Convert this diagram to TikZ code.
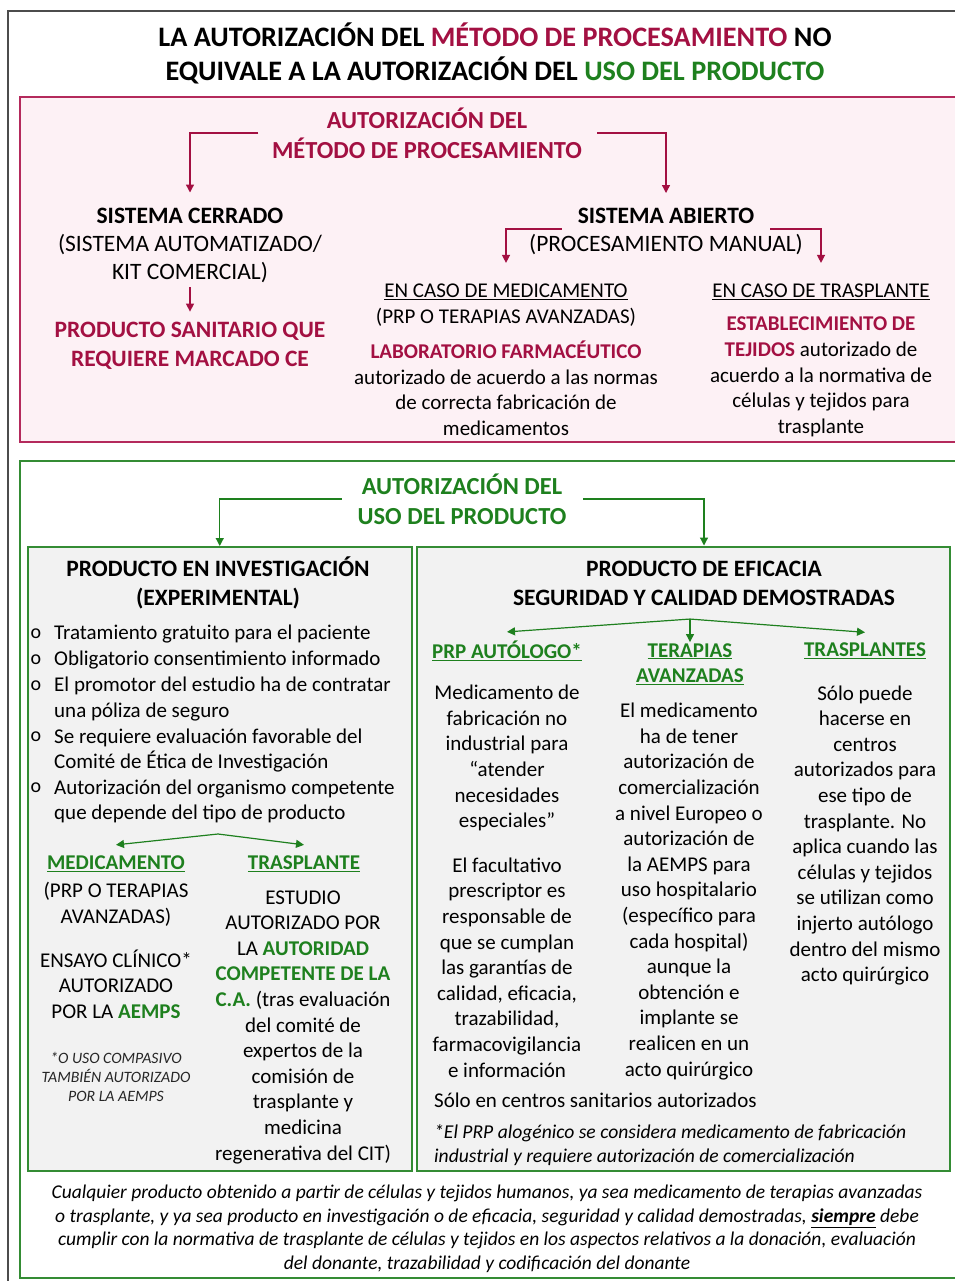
\documentclass[tikz,border=0pt]{standalone}
\usepackage{fontspec}
\setmainfont{Carlito}
\usetikzlibrary{arrows.meta,calc}
\definecolor{mred}{RGB}{163,16,66}
\definecolor{mgreen}{RGB}{30,128,30}
\definecolor{pinkfill}{RGB}{253,241,245}
\definecolor{pinkline}{RGB}{180,42,92}
\definecolor{gline}{RGB}{52,140,52}
\definecolor{grayfill}{RGB}{242,242,242}
\newcommand\uln[1]{\underline{#1}}
\newcommand\fsz[2]{\fontsize{#1}{#2}\selectfont}
\begin{document}
\begin{tikzpicture}[x=1pt,y=-1pt,
  body/.style={font=\fsz{21}{25.6}, align=center, inner sep=0pt},
  hd/.style={font=\fsz{23.5}{29}\bfseries, align=center, inner sep=0pt},
  sub/.style={font=\fsz{23.5}{28}, align=center, inner sep=0pt},
  gb/.style={font=\fsz{21}{25.6}\bfseries, text=mgreen, align=center, inner sep=0pt},
  bul/.style={font=\fsz{20}{24}, inner sep=0pt},
  rarr/.style={draw=mred, line width=1.3pt, -{Triangle[width=8pt,length=8pt]}},
  garr/.style={draw=mgreen, line width=1.2pt, -{Triangle[width=8pt,length=8pt]}},
  gbox/.style={draw=gline, fill=grayfill, line width=1.5pt, inner sep=0pt, anchor=north west}
]
\useasboundingbox (0,0) rectangle (954,1281);
\fill[white] (0,0) rectangle (954,1281);
% frames
\draw[black!70, line width=1.5pt] (8,11) rectangle (975,1300);
\draw[pinkline, fill=pinkfill, line width=2pt] (20,97) rectangle (975,442);
\draw[gline, line width=2pt] (20,461) rectangle (975,1278);
\node[gbox, minimum width=384pt, minimum height=624pt] (invbox) at (27,546) {};
\node[gbox, minimum width=533pt, minimum height=624pt] (efbox) at (416,546) {};

% title
\node[font=\fsz{28.2}{34}\bfseries, align=center, inner sep=0pt] (title) at (495,53)
 {LA AUTORIZACIÓN DEL {\color{mred}MÉTODO DE PROCESAMIENTO} NO\\EQUIVALE A LA AUTORIZACIÓN DEL {\color{mgreen}USO DEL PRODUCTO}};

% pink section
\node[hd, font=\fsz{24.5}{30}\bfseries, text=mred] (ptitle) at (427,133) {AUTORIZACIÓN DEL\\MÉTODO DE PROCESAMIENTO};
\node[hd] (cerrado) at (190,216) {SISTEMA CERRADO};
\node[sub] (cerradosub) at (190,259) {(SISTEMA AUTOMATIZADO/\\KIT COMERCIAL)};
\node[hd, text=mred] (psan) at (190,346) {PRODUCTO SANITARIO QUE\\REQUIERE MARCADO CE};
\node[hd, inner xsep=16pt, inner ysep=5pt] (abierto) at (666,216) {SISTEMA ABIERTO};
\node[sub] (abiertosub) at (666,245) {(PROCESAMIENTO MANUAL)};
\node[body] (medhead) at (506,292) {\uln{EN CASO DE MEDICAMENTO}};
\node[body] (medsub) at (506,317) {(PRP O TERAPIAS AVANZADAS)};
\node[body, font=\fsz{21}{25.6}\bfseries, text=mred] (lab) at (506,350) {LABORATORIO FARMACÉUTICO};
\node[body] (labtxt) at (506,402.5) {autorizado de acuerdo a las normas\\de correcta fabricación de\\medicamentos};
\node[body] (trhead1) at (821,292) {\uln{EN CASO DE TRASPLANTE}};
\node[body] (estab) at (821,377) {{\color{mred}\bfseries ESTABLECIMIENTO DE}\\{\color{mred}\bfseries TEJIDOS} autorizado de\\acuerdo a la normativa de\\células y tejidos para\\trasplante};

\draw[rarr, shorten <=13.5pt, shorten >=15.5pt] (ptitle.west) -| (cerrado.north);
\draw[rarr, shorten <=15pt, shorten >=10pt] (ptitle.east) -| (abierto.north);
\draw[rarr, shorten <=4pt, shorten >=10.5pt] (cerradosub.south) -- (psan.north);
\draw[rarr, shorten >=21pt] (abierto.south west) -| (medhead.north);
\draw[rarr, shorten >=21pt] (abierto.south east) -| (trhead1.north);

% green section
\node[hd, font=\fsz{24.5}{30}\bfseries, text=mgreen] (gtitle) at (462,499) {AUTORIZACIÓN DEL\\USO DEL PRODUCTO};
\node[hd] (invhead) at (218,583) {PRODUCTO EN INVESTIGACIÓN\\(EXPERIMENTAL)};
\node[hd] (efhead) at (704,583) {PRODUCTO DE EFICACIA\\SEGURIDAD Y CALIDAD DEMOSTRADAS};
\draw[garr, shorten <=15.5pt] (gtitle.west) -| (invbox.north);
\draw[garr, shorten <=16.5pt, shorten >=15pt] (gtitle.east) -| (efhead.north);

% left box
\node[bul] (o1) at (36,634) {o};
\node[bul] (o2) at (36,660) {o};
\node[bul] (o3) at (36,686) {o};
\node[bul] (o4) at (36,737) {o};
\node[bul] (o5) at (36,788) {o};
\node[body, anchor=west, align=left] (b1) at (54,634.5) {Tratamiento gratuito para el paciente};
\node[body, anchor=west, align=left] (b2) at (54,660.5) {Obligatorio consentimiento informado};
\node[body, anchor=west, align=left] (b3) at (54,699) {El promotor del estudio ha de contratar\\una póliza de seguro};
\node[body, anchor=west, align=left] (b4) at (54,750.5) {Se requiere evaluación favorable del\\Comité de Ética de Investigación};
\node[body, anchor=west, align=left] (b5) at (54,801.5) {Autorización del organismo competente\\que depende del tipo de producto};

\coordinate (apex2) at (218,834);
\node[gb] (medhead2) at (116,864) {\uln{MEDICAMENTO}};
\node[gb] (traspl2) at (304,864) {\uln{TRASPLANTE}};
\draw[garr] (apex2) -- ([yshift=11pt]medhead2.north);
\draw[garr] (apex2) -- ([yshift=11pt]traspl2.north);
\node[body] (medsub2) at (116,904) {(PRP O TERAPIAS\\AVANZADAS)};
\node[body] (ensayo) at (116,984) {ENSAYO CLÍNICO*\\AUTORIZADO\\POR LA {\color{mgreen}\bfseries AEMPS}};
\node[body, font=\fsz{15.8}{19.2}\itshape, text=black!85] (compas) at (116,1077) {*O USO COMPASIVO\\TAMBIÉN AUTORIZADO\\POR LA AEMPS};
\node[body] (estudio) at (303,1027) {ESTUDIO\\AUTORIZADO POR\\LA {\color{mgreen}\bfseries AUTORIDAD}\\{\color{mgreen}\bfseries COMPETENTE DE LA}\\{\color{mgreen}\bfseries C.A.} (tras evaluación\\del comité de\\expertos de la\\comisión de\\trasplante y\\medicina\\regenerativa del CIT)};

% right box
\node[gb] (prphead) at (507,651) {\uln{PRP AUTÓLOGO*}};
\node[gb] (terhead) at (690,664) {\uln{TERAPIAS}\\\uln{AVANZADAS}};
\node[gb] (trhead) at (865,651) {\uln{TRASPLANTES}};
\path (terhead.north) ++(0,-24) coordinate (apex);
\draw[garr] (apex) -- ([yshift=9pt]prphead.north);
\draw[garr, shorten >=1pt] (apex) -- (terhead.north);
\draw[garr] (apex) -- ([yshift=10.5pt]trhead.north);
\node[body] (prp1) at (507,758) {Medicamento de\\fabricación no\\industrial para\\“atender\\necesidades\\especiales”};
\node[body] (prp2) at (507,967.5) {El facultativo\\prescriptor es\\responsable de\\que se cumplan\\las garantías de\\calidad, eficacia,\\trazabilidad,\\farmacovigilancia\\e información};
\node[body] (ter) at (689,891.5) {El medicamento\\ha de tener\\autorización de\\comercialización\\a nivel Europeo o\\autorización de\\la AEMPS para\\uso hospitalario\\(específico para\\cada hospital)\\aunque la\\obtención e\\implante se\\realicen en un\\acto quirúrgico};
\node[body] (trtxt) at (865,835.5) {Sólo puede\\hacerse en\\centros\\autorizados para\\ese tipo de\\trasplante. No\\aplica cuando las\\células y tejidos\\se utilizan como\\injerto autólogo\\dentro del mismo\\acto quirúrgico};
\node[body, anchor=west] (solo) at (434,1100) {Sólo en centros sanitarios autorizados};
\node[body, anchor=west, align=left, font=\fsz{19.6}{24}\itshape] (alog) at (434,1145) {*El PRP alogénico se considera medicamento de fabricación\\industrial y requiere autorización de comercialización};

% bottom
\node[body, font=\fsz{19.5}{23.5}\itshape] (bottom) at (487,1229) {Cualquier producto obtenido a partir de células y tejidos humanos, ya sea medicamento de terapias avanzadas\\o trasplante, y ya sea producto en investigación o de eficacia, seguridad y calidad demostradas, \uln{\textbf{siempre}} debe\\cumplir con la normativa de trasplante de células y tejidos en los aspectos relativos a la donación, evaluación\\del donante, trazabilidad y codificación del donante};
\end{tikzpicture}
\end{document}
